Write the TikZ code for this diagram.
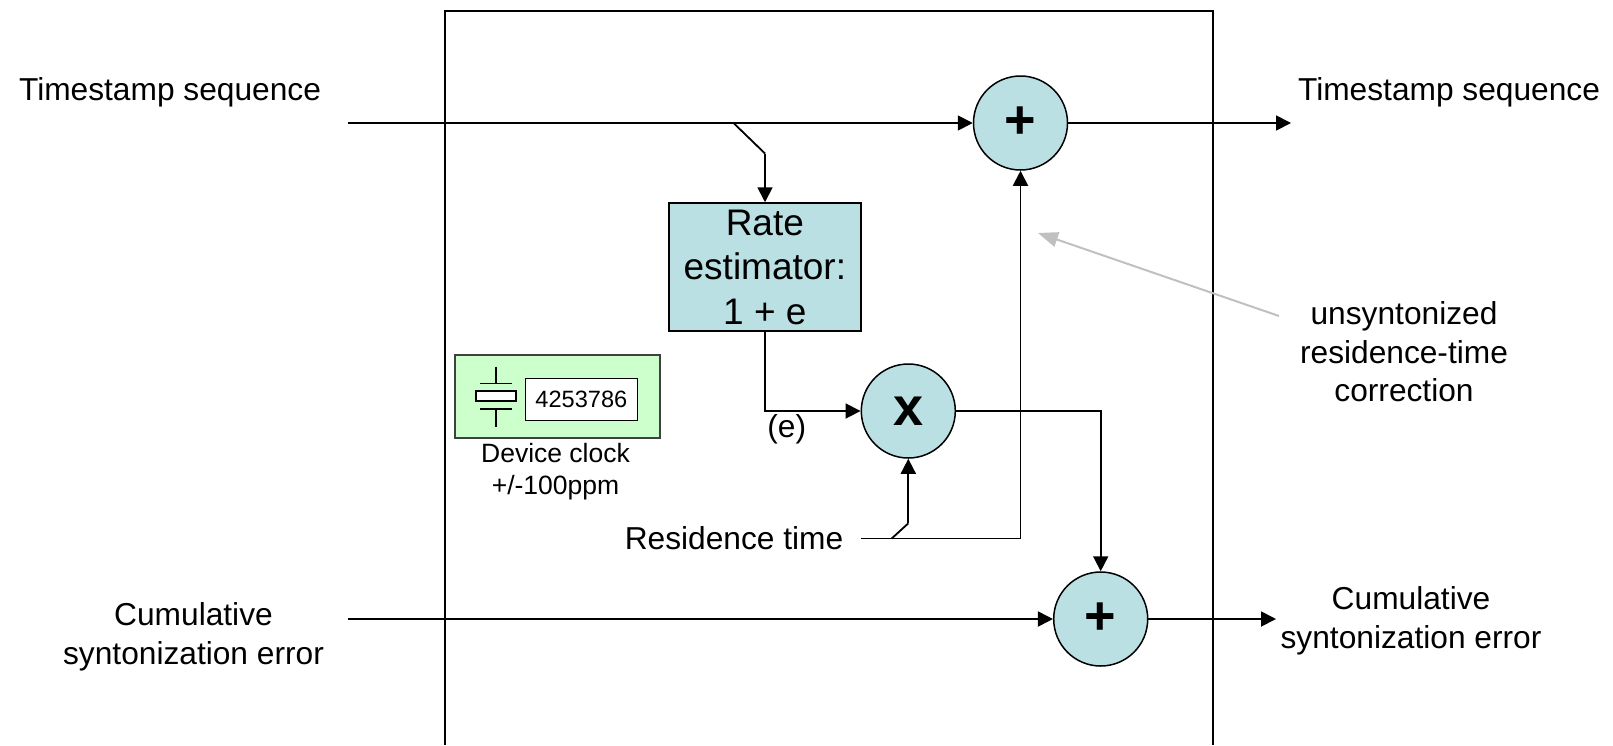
\documentclass[tikz,border=0pt]{standalone}
\usepackage{fontspec}
\setmainfont{Liberation Sans}
\usetikzlibrary{arrows.meta}
\definecolor{tealfill}{HTML}{BBE0E3}
\definecolor{greenfill}{HTML}{CCFFCC}
\definecolor{grayarrow}{HTML}{C0C0C0}
\begin{document}
\begin{tikzpicture}[x=1pt,y=-1pt,
  plain/.style={line width=1.8pt},
  conn/.style={line width=1.8pt,-{Triangle[length=15pt,width=15pt]}},
  opcircle/.style={circle,draw,line width=1.5pt,fill=tealfill,minimum size=94pt,inner sep=0pt,font=\fontsize{54}{60}\selectfont\bfseries},
  lbl/.style={font=\fontsize{31.7}{38.5}\selectfont,align=center,inner sep=0pt},
  thin/.style={line width=1.2pt}
]
\useasboundingbox (0,0) rectangle (1613,745);
% enclosing box (open at bottom)
\draw[line width=2pt] (444.5,745) -- (444.5,10.5) -- (1212.8,10.5) -- (1212.8,745);

% labels
\node[lbl] (tsL) at (170,92) {Timestamp sequence};
\node[lbl] (tsR) at (1449,92) {Timestamp sequence};
\node[lbl] (cumL) at (193.5,637) {Cumulative\\syntonization error};
\node[lbl] (cumR) at (1411,621) {Cumulative\\syntonization error};
\node[lbl] (unsyn) at (1404,352) {unsyntonized\\residence-time\\correction};
\node[lbl] (restxt) at (734,538) {Residence time};
\node[lbl] (elbl) at (786.7,429) {(e)};

% operators
\node[opcircle] (plus1) at (1020.5,123) {\raisebox{-6pt}{+}};
\node[opcircle] (mult) at (908.3,411) {\raisebox{-6pt}{x}};
\node[opcircle] (plus2) at (1100.7,619) {\raisebox{-6pt}{+}};
\node[draw,fill=tealfill,line width=1.5pt,minimum width=192pt,minimum height=128pt,inner sep=0pt,align=center,font=\fontsize{37}{44.5}\selectfont] (rate) at (764.85,267) {Rate\\estimator:\\1 + e};

% device clock
\node[draw=black!75,fill=greenfill,thin,minimum width=205pt,minimum height=83pt,inner sep=0pt] (clk) at (557.5,396.5) {};
\node[draw,fill=white,thin,minimum width=112pt,minimum height=42pt,inner sep=0pt,font=\fontsize{23.6}{28}\selectfont] (cnt) at (581.4,399.5) {4253786};
\draw[thin] (496,366.7) -- (496,383.3);
\draw[thin] (480,383.3) -- (512,383.3);
\draw[thin,fill=white] (476,391) rectangle (516,401);
\draw[thin] (480,409) -- (512,409);
\draw[thin] (496,409) -- (496,426.7);
\node[font=\fontsize{26.5}{32}\selectfont,align=center,inner sep=0pt] (clklbl) at (555.5,472) {Device clock\\+/-100ppm};

% coordinates
\coordinate (inTop) at (347.7,123);
\coordinate (outTop) at (1291,123);
\coordinate (brA) at (733.5,123);
\coordinate (brB) at (765,153.5);
\coordinate (inBot) at (347.7,619);
\coordinate (outBot) at (1276,619);
\coordinate (resStart) at (861,538.5);
\coordinate (resEnd) at (1020.5,538.5);
\coordinate (resDiag) at (891.7,538.5);
\coordinate (resBend) at (908.3,523.3);
\coordinate (gStart) at (1279,316);
\coordinate (gTip) at (1038,233);

% connectors
\draw[conn] (inTop) -- (plus1);
\draw[conn] (plus1) -- (outTop);
\draw[plain] (brA) -- (brB);
\draw[conn] (brB) -- (rate.north -| brB);
\draw[conn] (rate.south -| brB) |- (mult.west);
\draw[plain] (resStart) -- (resEnd);
\draw[conn] (resEnd) -- (plus1.south);
\draw[plain] (resDiag) -- (resBend);
\draw[conn] (resBend) -- (mult.south);
\draw[conn] (mult.east) -| (plus2.north);
\draw[conn] (inBot) -- (plus2);
\draw[conn] (plus2) -- (outBot);
\draw[grayarrow,line width=2pt,-{Triangle[length=20pt,width=15pt]}] (gStart) -- (gTip);
\end{tikzpicture}
\end{document}
